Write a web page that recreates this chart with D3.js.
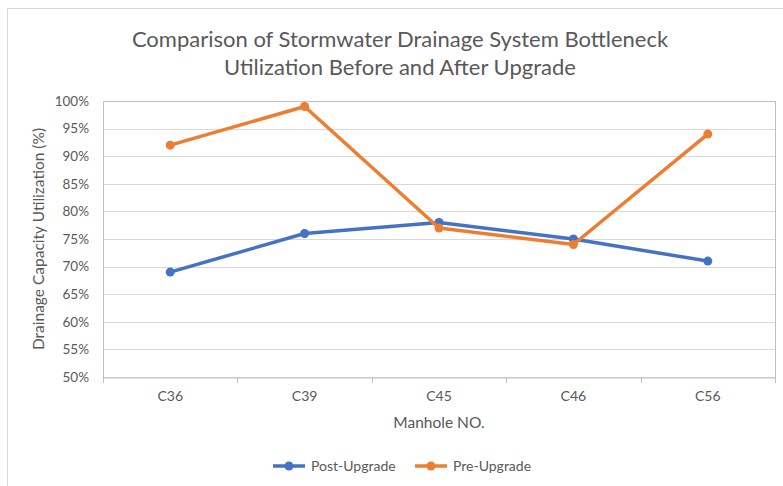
<!DOCTYPE html>
<html>
<head>
<meta charset="utf-8">
<script src="https://cdn.jsdelivr.net/npm/d3@7"></script>
<style>
  html, body { margin: 0; padding: 0; background: #fff; }
  svg { display: block; }
</style>
</head>
<body>
<svg id="chart" width="783" height="486"></svg>
<script>
const categories = ["C36", "C39", "C45", "C46", "C56"];
const postUpgrade = [69, 76, 78, 75, 71];
const preUpgrade = [92, 99, 77, 74, 94];
const yTicks = [50, 55, 60, 65, 70, 75, 80, 85, 90, 95, 100];
const seriesNames = ["Post-Upgrade", "Pre-Upgrade"];
const seriesColors = ["#4472C4", "#ED7D31"];
const titleLines = ["Comparison of Stormwater Drainage System Bottleneck", "Utilization Before and After Upgrade"];
const xTitle = "Manhole NO.";
const yTitle = "Drainage Capacity Utilization (%)";

const font = "Lato, 'Open Sans', sans-serif";
const textColor = "#595959";
const svg = d3.select("#chart");

// outer chart border
svg.append("rect").attr("x", 7.5).attr("y", 8.5).attr("width", 790).attr("height", 490)
  .attr("fill", "#fff").attr("stroke", "#d9d9d9").attr("stroke-width", 1);

const m = { left: 103, right: 775, top: 101, bottom: 377 };
const x = d3.scaleBand().domain(categories).range([m.left, m.right]);
const y = d3.scaleLinear().domain([50, 100]).range([m.bottom, m.top]);

// gridlines
svg.append("g").selectAll("line").data(yTicks).join("line")
  .attr("x1", m.left).attr("x2", m.right)
  .attr("y1", d => Math.round(y(d)) + 0.5).attr("y2", d => Math.round(y(d)) + 0.5)
  .attr("stroke", "#d9d9d9").attr("stroke-width", 1);

// plot area border lines
svg.append("line").attr("x1", m.left + 0.5).attr("x2", m.left + 0.5).attr("y1", m.top).attr("y2", m.bottom)
  .attr("stroke", "#bfbfbf");
svg.append("line").attr("x1", m.right + 0.5).attr("x2", m.right + 0.5).attr("y1", m.top).attr("y2", m.bottom)
  .attr("stroke", "#bfbfbf");
svg.append("line").attr("x1", m.left).attr("x2", m.right).attr("y1", m.top + 0.5).attr("y2", m.top + 0.5)
  .attr("stroke", "#bfbfbf");

// y axis
const yAxis = svg.append("g").attr("transform", `translate(${m.left},0)`)
  .call(d3.axisLeft(y).tickValues(yTicks).tickFormat(d => d + "%").tickSize(0).tickPadding(14));
yAxis.select(".domain").remove();
yAxis.selectAll("text").attr("font-family", font).attr("font-size", 13.5).attr("fill", textColor);

// x axis
const xAxis = svg.append("g").attr("transform", `translate(0,${m.bottom + 0.5})`)
  .call(d3.axisBottom(x).tickSize(0).tickPadding(14));
xAxis.select(".domain").attr("stroke", "#bfbfbf");
xAxis.selectAll("text").attr("font-family", font).attr("font-size", 14).attr("fill", textColor);
const boundaries = categories.map(c => x(c)).concat([m.right]);
svg.append("g").selectAll("line").data(boundaries).join("line")
  .attr("x1", d => Math.round(d) + 0.5).attr("x2", d => Math.round(d) + 0.5)
  .attr("y1", m.bottom).attr("y2", m.bottom + 6)
  .attr("stroke", "#bfbfbf");

// lines
const allSeries = [postUpgrade, preUpgrade];
const line = d3.line().x((d, i) => x(categories[i]) + x.bandwidth() / 2).y(d => y(d));
allSeries.forEach((s, k) => {
  const g = svg.append("g");
  g.append("path").datum(s).attr("d", line).attr("fill", "none")
    .attr("stroke", seriesColors[k]).attr("stroke-width", 3.5).attr("stroke-linejoin", "round");
  g.selectAll("circle").data(s).join("circle")
    .attr("cx", (d, i) => x(categories[i]) + x.bandwidth() / 2).attr("cy", d => y(d))
    .attr("r", 4.5).attr("fill", seriesColors[k]);
});

// title
svg.append("text").attr("x", 400).attr("y", 47).attr("text-anchor", "middle")
  .attr("font-family", font).attr("font-size", 22).attr("fill", textColor)
  .selectAll("tspan").data(titleLines).join("tspan")
  .attr("x", 400).attr("dy", (d, i) => i === 0 ? 0 : 28).text(d => d);

// axis titles
svg.append("text").attr("x", (m.left + m.right) / 2).attr("y", 428).attr("text-anchor", "middle")
  .attr("font-family", font).attr("font-size", 15.5).attr("fill", textColor).text(xTitle);
svg.append("text").attr("transform", `translate(44,${(m.top + m.bottom) / 2}) rotate(-90)`)
  .attr("text-anchor", "middle").attr("font-family", font).attr("font-size", 15.5)
  .attr("fill", textColor).text(yTitle);

// legend
const legendX = [273, 415];
seriesNames.forEach((name, k) => {
  const g = svg.append("g").attr("transform", `translate(${legendX[k]},466)`);
  g.append("line").attr("x1", 0).attr("x2", 32).attr("y1", 0).attr("y2", 0)
    .attr("stroke", seriesColors[k]).attr("stroke-width", 3.5);
  g.append("circle").attr("cx", 16).attr("cy", 0).attr("r", 4.5).attr("fill", seriesColors[k]);
  g.append("text").attr("x", 38).attr("y", 5).attr("font-family", font).attr("font-size", 14)
    .attr("fill", textColor).text(name);
});
</script>
</body>
</html>
